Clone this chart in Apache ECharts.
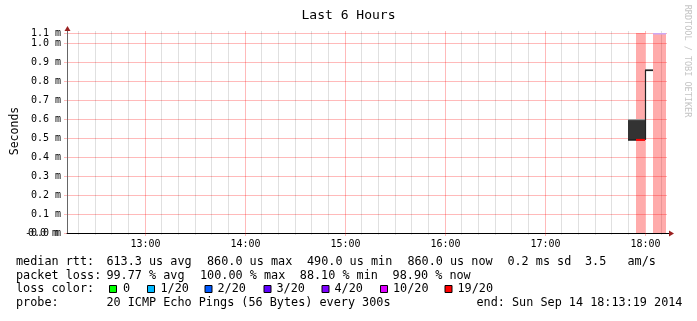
<!DOCTYPE html>
<html><head><meta charset="utf-8">
<script src="https://cdn.jsdelivr.net/npm/echarts@6/dist/echarts.min.js"></script>
<style>html,body{margin:0;padding:0;background:#fff}#c{width:697px;height:321px}</style>
</head><body><div id="c"></div>
<script>
// ---------- data ----------
const chartTitle = 'Last 6 Hours';
const yAxisName = 'Seconds';
const watermark = 'RRDTOOL / TOBI OETIKER';
const xStart = 43999;            // 12:13:19 (seconds of day)
const xEnd = 65599;              // 18:13:19
const yMax = 1.0526;             // milliseconds at top edge
const yInterval = 0.1;
const hourTimes = [46800, 50400, 54000, 57600, 61200, 64800];
const hourLabels = ['13:00', '14:00', '15:00', '16:00', '17:00', '18:00'];
const minorStep = 600;

// full-height loss bands
const lossBandStart = [64500, 65100];
const lossBandEnd = [64800, 65550];

// smoke layers
const smokeStart = [64200, 64200, 64800];
const smokeEnd = [64800, 64800, 65100];
const smokeLow = [0.488, 0.488, 0.853];
const smokeHigh = [0.600, 0.594, 0.862];

// median rtt steps
const medianStart = [64200, 64500, 64800];
const medianEnd = [64500, 64800, 65100];
const medianValue = [0.490, 0.490, 0.856];
const medianLoss = [0, 6, 0];

// legend
const medianRow = ['median rtt:', '613.3 us avg', '860.0 us max', '490.0 us min', '860.0 us now', '0.2 ms sd', '3.5', 'am/s'];
const lossRow = ['packet loss:', '99.77 % avg', '100.00 % max', '88.10 % min', '98.90 % now'];
const lossColorTitle = 'loss color:';
const lossLabels = ['0', '1/20', '2/20', '3/20', '4/20', '10/20', '19/20'];
const lossColors = ['#00ff00', '#00b8ff', '#0059ff', '#5e00ff', '#7e00ff', '#dd00ff', '#ff0000'];
const probeRow = ['probe:', '20 ICMP Echo Pings (56 Bytes) every 300s', 'end: Sun Sep 14 18:13:19 2014'];

// ---------- styles / layout ----------
const MONO = "'DejaVu Sans Mono', monospace";
const LEG = 11.8;
const majorColor = 'rgba(255,0,0,0.27)';
const minorColor = 'rgba(0,0,0,0.12)';
const smokeShade = ['#9a9a9a', '#333333', '#9a9a9a'];
const medianColorDefault = '#222222';

const gridItems = [];
for (let t = Math.ceil(xStart / minorStep) * minorStep; t < xEnd; t += minorStep) {
  const hi = hourTimes.indexOf(t);
  gridItems.push([t, hi >= 0 ? 1 : 0, hi]);
}
const bandItems = lossBandStart.map((s, i) => [s, lossBandEnd[i], i]);
const smokeItems = smokeStart.map((s, i) => [s, smokeEnd[i], smokeLow[i], smokeHigh[i], i]);
const medianItems = medianStart.map((s, i) => [s, medianEnd[i], medianValue[i], i > 0 ? medianValue[i - 1] : medianValue[i], i]);

const chart = echarts.init(document.getElementById('c'), null, { renderer: 'canvas' });

const graphics = [];
function txt(x, y, s, extra) {
  graphics.push({
    type: 'text', x: x, y: y,
    style: Object.assign({ text: s, fontFamily: MONO, fontSize: LEG, fill: '#000', verticalAlign: 'middle', align: 'left' }, extra || {})
  });
}
txt(348.5, 16, chartTitle, { fontSize: 13, align: 'center' });
graphics.push({ type: 'text', x: 15, y: 131, rotation: Math.PI / 2,
  style: { text: yAxisName, fontFamily: MONO, fontSize: 11.5, fill: '#000', align: 'center', verticalAlign: 'middle' } });
graphics.push({ type: 'text', x: 687, y: 61, rotation: -Math.PI / 2,
  style: { text: watermark, fontFamily: MONO, fontSize: 8.5, fill: '#c4c4c4', align: 'center', verticalAlign: 'middle' } });
// overlapped zero label
txt(58, 233, '0.0 m', { fontSize: 10, align: 'right' });

const rowY = [261.7, 275.7, 289.3, 303.3];
const medianX = [16, 106.4, 207, 307, 407.4, 507.4, 585, 627.5];
medianRow.forEach((s, i) => txt(medianX[i], rowY[0], s));
const lossX = [16, 106.4, 200, 299.8, 392.6];
lossRow.forEach((s, i) => txt(lossX[i], rowY[1], s));
txt(16, rowY[2], lossColorTitle);
const boxX = [109, 147, 204.5, 263.5, 321.5, 380, 444.5];
const boxLabelX = [123, 160.5, 217.5, 276.5, 334.5, 393, 457.5];
lossLabels.forEach((s, i) => {
  graphics.push({ type: 'rect', shape: { x: boxX[i] + 0.5, y: 285.5, width: 7, height: 7 },
    style: { fill: lossColors[i], stroke: '#000', lineWidth: 1 } });
  txt(boxLabelX[i], rowY[2], s);
});
const probeX = [16, 106.4, 476.5];
probeRow.forEach((s, i) => txt(probeX[i], rowY[3], s));

const option = {
  animation: false,
  backgroundColor: '#ffffff',
  grid: { left: 67, right: 30, top: 33, bottom: 88, containLabel: false, outerBoundsMode: 'none' },
  xAxis: {
    type: 'value', min: xStart, max: xEnd,
    axisLine: { show: true, lineStyle: { color: '#000', width: 1 } },
    axisTick: { show: false }, axisLabel: { show: false }, splitLine: { show: false }
  },
  yAxis: {
    type: 'value', min: 0, max: yMax, interval: yInterval,
    axisLine: { show: true, lineStyle: { color: '#666', width: 1 } },
    axisTick: { show: true, length: 3, lineStyle: { color: majorColor } },
    splitLine: { show: true, lineStyle: { color: majorColor, width: 1 } },
    axisLabel: {
      show: true, showMinLabel: true, showMaxLabel: true, margin: 6,
      fontFamily: MONO, fontSize: 10, color: '#000',
      formatter: function (v) {
        if (Math.abs(v - yMax) < 1e-9) return '1.1 m';
        if (Math.abs(v) < 1e-9) return '-0.0 m';
        return v.toFixed(1) + ' m';
      }
    }
  },
  graphic: graphics,
  series: [
    {
      name: 'grid', type: 'custom', clip: false, silent: true, z: 1,
      data: gridItems,
      renderItem: function (params, api) {
        const t = api.value(0), kind = api.value(1);
        const pb = api.coord([t, 0]), pt = api.coord([t, yMax]);
        const x = Math.round(pb[0]) + 0.5;
        const ch = [{ type: 'line', shape: { x1: x, y1: pb[1] + (kind ? 3 : 2), x2: x, y2: pt[1] - 2 },
          style: { stroke: kind ? majorColor : minorColor, lineWidth: 1 } }];
        if (kind) ch.push({ type: 'text', x: x, y: pb[1] + 11,
          style: { text: hourLabels[api.value(2)], fontFamily: MONO, fontSize: 10, fill: '#000', align: 'center', verticalAlign: 'middle' } });
        return { type: 'group', children: ch };
      }
    },
    {
      name: 'loss', type: 'custom', clip: false, silent: true, z: 2,
      data: bandItems,
      renderItem: function (params, api) {
        const p0 = api.coord([api.value(0), 0]), p1 = api.coord([api.value(1), yMax]);
        const ch = [{ type: 'rect', shape: { x: Math.round(p0[0]), y: p1[1], width: Math.round(p1[0]) - Math.round(p0[0]), height: p0[1] - p1[1] },
          style: { fill: 'rgba(255,0,0,0.33)' } }];
        if (api.value(2) === 1) ch.push({ type: 'rect', shape: { x: Math.round(p0[0]), y: p1[1], width: Math.round(p1[0]) - Math.round(p0[0]), height: 1.5 },
          style: { fill: '#cda8f4' } });
        return { type: 'group', children: ch };
      }
    },
    {
      name: 'smoke', type: 'custom', clip: false, silent: true, z: 3,
      data: smokeItems,
      renderItem: function (params, api) {
        const p0 = api.coord([api.value(0), api.value(2)]), p1 = api.coord([api.value(1), api.value(3)]);
        const x0 = Math.round(p0[0]), x1 = Math.round(p1[0]);
        return { type: 'rect', shape: { x: x0, y: p1[1], width: x1 - x0, height: Math.max(1, p0[1] - p1[1]) },
          style: { fill: smokeShade[api.value(4)] } };
      }
    },
    {
      name: 'median', type: 'custom', clip: false, silent: true, z: 4,
      data: medianItems,
      renderItem: function (params, api) {
        const i = api.value(4);
        const color = medianLoss[i] ? lossColors[medianLoss[i]] : medianColorDefault;
        const pa = api.coord([api.value(0), api.value(2)]), pb = api.coord([api.value(1), api.value(2)]);
        const pv = api.coord([api.value(0), api.value(3)]);
        const x0 = Math.round(pa[0]), x1 = Math.round(pb[0]);
        const ch = [{ type: 'line', shape: { x1: x0, y1: pa[1], x2: x1, y2: pa[1] },
          style: { stroke: color, lineWidth: medianLoss[i] ? 2 : 1.5 } }];
        if (Math.abs(api.value(3) - api.value(2)) > 1e-9) {
          ch.push({ type: 'line', shape: { x1: x0 + 0.5, y1: pv[1], x2: x0 + 0.5, y2: pa[1] },
            style: { stroke: color, lineWidth: 1.2 } });
        }
        return { type: 'group', children: ch };
      }
    },
    {
      name: 'arrows', type: 'custom', clip: false, silent: true, z: 5,
      data: [[xEnd, yMax]],
      renderItem: function (params, api) {
        const o = api.coord([xStart, 0]);
        const e = api.coord([xEnd, 0]);
        const t = api.coord([xStart, yMax]);
        const xa = Math.round(o[0]) + 0.5, ya = Math.round(o[1]) + 0.5;
        return { type: 'group', children: [
          { type: 'line', shape: { x1: e[0], y1: ya, x2: e[0] + 4, y2: ya }, style: { stroke: '#000', lineWidth: 1 } },
          { type: 'polygon', shape: { points: [[e[0] + 2, ya - 3], [e[0] + 7, ya], [e[0] + 2, ya + 3]] }, style: { fill: '#9a2020' } },
          { type: 'line', shape: { x1: xa, y1: t[1], x2: xa, y2: t[1] - 3 }, style: { stroke: '#666', lineWidth: 1 } },
          { type: 'polygon', shape: { points: [[xa - 3, t[1] - 2], [xa, t[1] - 7], [xa + 3, t[1] - 2]] }, style: { fill: '#9a2020' } }
        ] };
      }
    }
  ]
};
chart.setOption(option);
</script>
</body></html>
